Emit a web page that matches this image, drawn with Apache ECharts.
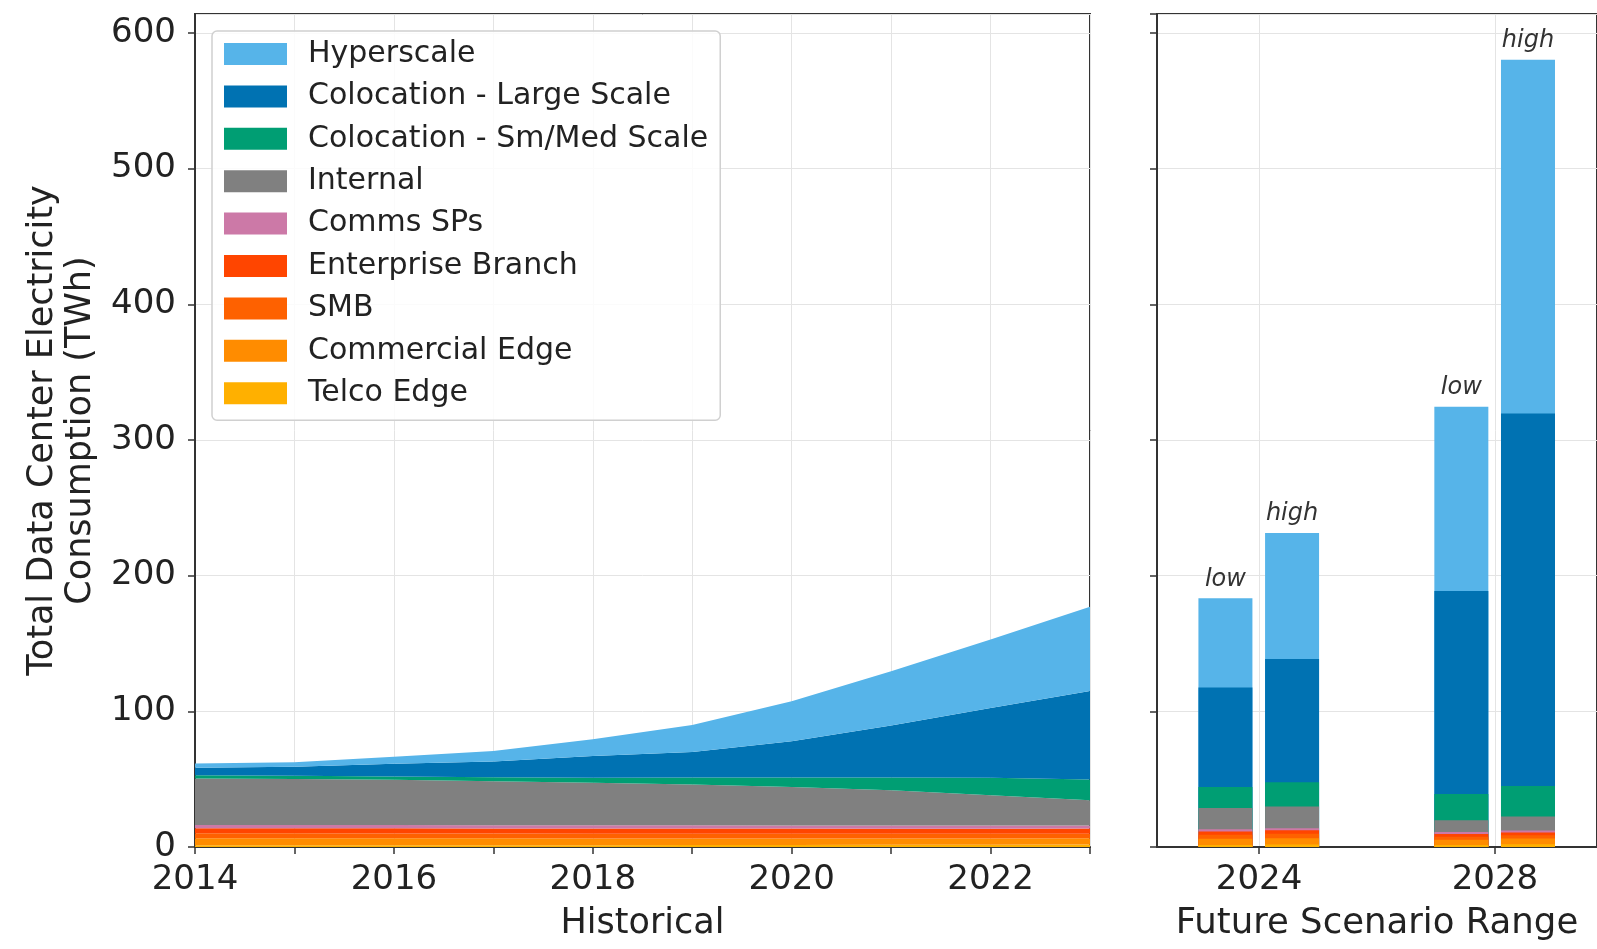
<!DOCTYPE html>
<html><head><meta charset="utf-8">
<script src="https://cdn.jsdelivr.net/npm/echarts@6/dist/echarts.min.js"></script>
<style>html,body{margin:0;padding:0;background:#fff}#c{width:1597px;height:949px}</style>
</head><body><div id="c"></div>
<script>
// ---------- DATA ----------
const years = ['2014','2015','2016','2017','2018','2019','2020','2021','2022','2023'];
// stacking order bottom -> top
const seriesNames = ['Telco Edge','Commercial Edge','SMB','Enterprise Branch','Comms SPs','Internal','Colocation - Sm/Med Scale','Colocation - Large Scale','Hyperscale'];

// Historical (TWh)
const telcoEdge        = [1.2,1.2,1.2,1.3,1.3,1.4,1.5,1.6,1.7,1.8];
const commercialEdge   = [5.3,5.3,5.2,5.1,5.0,4.9,4.8,4.7,4.6,4.6];
const smb              = [3.6,3.6,3.6,3.5,3.5,3.5,3.5,3.4,3.4,3.4];
const enterpriseBranch = [3.8,3.8,3.8,3.8,3.8,3.8,3.8,3.8,3.8,3.8];
const commsSPs         = [2.4,2.4,2.4,2.4,2.4,2.4,2.3,2.3,2.3,2.2];
const internal         = [34.1,33.9,33.4,32.4,31.4,30.0,28.4,26.0,22.4,18.7];
const colocationSmMed  = [2.4,2.3,2.4,3.0,3.6,5.3,7.0,9.5,12.8,15.3];
const colocationLarge  = [5.7,6.7,9.3,11.5,16.0,18.7,26.7,38.2,51.5,65.2];
const hyperscale       = [3.0,3.3,5.2,7.8,12.5,20.0,29.5,40.0,50.5,62.0];

// Future scenarios
const scenarioYears  = [2024, 2024, 2028, 2028];
const scenarioLabels = ['low', 'high', 'low', 'high'];
const futureTickLabels = [2024, 2028];
const futTelcoEdge        = [1.5, 1.8, 1.5, 2.0];
const futCommercialEdge   = [4.5, 4.7, 3.8, 4.2];
const futSmb              = [3.0, 3.2, 2.3, 2.5];
const futEnterpriseBranch = [2.5, 2.6, 2.0, 2.0];
const futCommsSPs         = [1.5, 1.5, 1.4, 1.5];
const futInternal         = [15.8, 16.0, 8.7, 10.2];
const futColocationSmMed  = [15.5, 18.0, 19.3, 22.6];
const futColocationLarge  = [73.3, 90.7, 149.7, 274.5];
const futHyperscale       = [65.7, 93.0, 135.8, 260.8];

// ---------- STYLE ----------
const colors = ['#FFB000','#FF8C00','#FE6100','#FF4500','#CC79A7','#808080','#009E73','#0072B2','#56B4E9'];
const scenarioOffset = { low: -0.57, high: 0.56 };
const FONT = 'DejaVu Sans';
const TXT = '#222';
const SPINE = '#333';
const GRIDC = '#e4e4e4';

const histData = [telcoEdge, commercialEdge, smb, enterpriseBranch, commsSPs, internal, colocationSmMed, colocationLarge, hyperscale];
const futData = [futTelcoEdge, futCommercialEdge, futSmb, futEnterpriseBranch, futCommsSPs, futInternal, futColocationSmMed, futColocationLarge, futHyperscale];

// cumulative tops for future bars
const cum = [];
futData.forEach((arr, i) => {
  cum.push(arr.map((v, k) => v + (i > 0 ? cum[i - 1][k] : 0)));
});

const series = [];
seriesNames.forEach((n, i) => {
  series.push({
    type: 'line', name: n, xAxisIndex: 0, yAxisIndex: 0, stack: 'hist',
    data: histData[i], symbol: 'none', showSymbol: false, smooth: false,
    color: colors[i],
    lineStyle: { width: 0 },
    areaStyle: { color: colors[i], opacity: 1 },
    itemStyle: { color: colors[i] },
    emphasis: { disabled: true }, z: 2
  });
});
for (let i = seriesNames.length - 1; i >= 0; i--) {
  const s = {
    type: 'bar', name: seriesNames[i], xAxisIndex: 1, yAxisIndex: 1,
    barWidth: 54, barGap: '-100%',
    color: colors[i],
    itemStyle: { color: colors[i] },
    emphasis: { disabled: true },
    data: scenarioYears.map((y, k) => [y + scenarioOffset[scenarioLabels[k]], cum[i][k]]),
    z: 2
  };
  if (i === seriesNames.length - 1) {
    s.label = {
      show: true, position: 'top', distance: 7,
      fontFamily: FONT, fontStyle: 'italic', fontSize: 24, color: '#333',
      formatter: p => scenarioLabels[p.dataIndex]
    };
  }
  series.push(s);
}

const yAxisCommon = {
  type: 'value', min: 0, max: 614, interval: 100,
  axisLine: { show: true, lineStyle: { color: SPINE, width: 2 } },
  axisTick: { show: true, inside: false, length: 7, lineStyle: { color: SPINE, width: 1.5 } },
  splitLine: { show: true, lineStyle: { color: GRIDC, width: 1 } }
};

const option = {
  animation: false,
  backgroundColor: '#fff',
  textStyle: { fontFamily: FONT },
  grid: [
    { left: 195, top: 14, width: 895, height: 840, show: true, borderColor: SPINE, borderWidth: 2, backgroundColor: 'transparent' },
    { left: 1157, top: 14, width: 449, height: 840, show: true, borderColor: SPINE, borderWidth: 2, backgroundColor: 'transparent' }
  ],
  legend: {
    orient: 'vertical', left: 212, top: 31,
    padding: [8, 12, 12, 12],
    itemWidth: 63, itemHeight: 22, itemGap: 12.4,
    icon: 'rect',
    backgroundColor: 'rgba(255,255,255,0.85)',
    borderColor: '#d0d0d0', borderWidth: 1.5, borderRadius: 5,
    textStyle: { fontFamily: FONT, fontSize: 30, lineHeight: 30, color: TXT, padding: [0, 0, 0, 16] },
    data: seriesNames.slice().reverse()
  },
  xAxis: [
    {
      type: 'category', gridIndex: 0, data: years, boundaryGap: false,
      name: 'Historical', nameLocation: 'middle', nameGap: 57,
      nameTextStyle: { fontFamily: FONT, fontSize: 35, color: TXT, lineHeight: 40 },
      axisLine: { show: true, lineStyle: { color: SPINE, width: 2 } },
      axisTick: { show: true, interval: 0, inside: false, length: 7, lineStyle: { color: SPINE, width: 1.5 } },
      axisLabel: { interval: 1, margin: 16, fontFamily: FONT, fontSize: 34, lineHeight: 34, color: TXT },
      splitLine: { show: true, interval: 0, lineStyle: { color: GRIDC, width: 1 } }
    },
    {
      type: 'value', gridIndex: 1, min: 2022.27, max: 2029.73,
      name: 'Future Scenario Range', nameLocation: 'middle', nameGap: 57,
      nameTextStyle: { fontFamily: FONT, fontSize: 35.5, color: TXT, lineHeight: 40 },
      axisLine: { show: true, lineStyle: { color: SPINE, width: 2 } },
      axisTick: { show: true, inside: false, length: 7, customValues: futureTickLabels, lineStyle: { color: SPINE, width: 1.5 } },
      axisLabel: { customValues: futureTickLabels, margin: 16, fontFamily: FONT, fontSize: 34, lineHeight: 34, color: TXT, formatter: v => String(Math.round(v)) },
      splitLine: { show: true, lineStyle: { color: GRIDC, width: 1 } }
    }
  ],
  yAxis: [
    Object.assign({}, yAxisCommon, {
      gridIndex: 0,
      name: 'Total Data Center Electricity\nConsumption (TWh)',
      nameLocation: 'middle', nameGap: 95, nameRotate: 90,
      nameTextStyle: { fontFamily: FONT, fontSize: 35, lineHeight: 38, color: TXT, align: 'center' },
      axisLabel: { margin: 19, fontFamily: FONT, fontSize: 34, color: TXT }
    }),
    Object.assign({}, yAxisCommon, {
      gridIndex: 1,
      axisLabel: { show: false }
    })
  ],
  series: series
};

const chart = echarts.init(document.getElementById('c'), null, { renderer: 'canvas' });
chart.setOption(option);
</script>
</body></html>
